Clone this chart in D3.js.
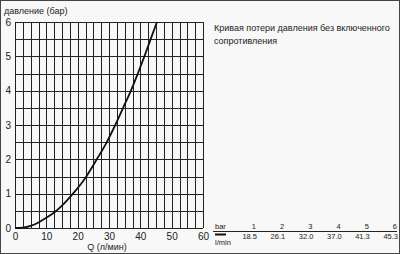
<!DOCTYPE html>
<html>
<head>
<meta charset="utf-8">
<script src="https://cdn.jsdelivr.net/npm/d3@7"></script>
<style>
  html, body { margin: 0; padding: 0; background: #fff; }
  svg { display: block; font-family: "Liberation Sans", Arial, sans-serif; }
</style>
</head>
<body>
<svg id="chart" width="400" height="254"></svg>
<script>
// curve: flow (l/min) vs pressure (bar)
let flowValues = [0, 2.5, 5, 7.5, 10, 12.5, 15, 18.5, 22, 26.1, 29, 32.0, 34.5, 37.0, 39.2, 41.3, 43.3, 45.3];
let pressureValues = [0, 0.01, 0.06, 0.16, 0.3, 0.45, 0.65, 1, 1.4, 2, 2.45, 3, 3.5, 4, 4.5, 5, 5.5, 6];
let xTicks = [0, 10, 20, 30, 40, 50, 60];
let yTicks = [0, 1, 2, 3, 4, 5, 6];
// table at bottom right
let tableBar = [1, 2, 3, 4, 5, 6];
let tableFlow = ["18.5", "26.1", "32.0", "37.0", "41.3", "45.3"];

let svg = d3.select('#chart');
let width = 400, height = 254;
let font = '"Liberation Sans", Arial, sans-serif';

// background + frame
svg.append('rect')
    .attr('x', 0.5).attr('y', 0.5)
    .attr('width', width - 1).attr('height', height - 1)
    .attr('fill', '#f8f8f8')
    .attr('stroke', '#444');

let x = d3.scaleLinear().domain([0, 60]).range([15, 203]);
let y = d3.scaleLinear().domain([0, 6]).range([228, 22]);

// grid every 2.5 l/min and 0.5 bar
let grid = svg.append('g').attr('stroke', '#222').attr('stroke-width', 1);
d3.range(0, 60.01, 2.5).forEach(function (v) {
    grid.append('line')
        .attr('x1', Math.round(x(v)) + 0.5).attr('x2', Math.round(x(v)) + 0.5)
        .attr('y1', y(6)).attr('y2', y(0));
});
d3.range(0, 6.01, 0.5).forEach(function (v) {
    grid.append('line')
        .attr('x1', x(0)).attr('x2', x(60))
        .attr('y1', Math.round(y(v)) + 0.5).attr('y2', Math.round(y(v)) + 0.5);
});

// tick labels only, the grid plays the axis
let xAxis = d3.axisBottom(x).tickValues(xTicks).tickFormat(d3.format('d')).tickSize(0).tickPadding(5);
svg.append('g')
    .attr('transform', 'translate(0,' + y(0) + ')')
    .call(xAxis)
    .call(g => g.select('.domain').remove())
    .selectAll('text')
    .attr('font-size', 10).attr('fill', '#222')
    .attr('font-family', font);

let yAxis = d3.axisLeft(y).tickValues(yTicks).tickFormat(d3.format('d')).tickSize(0).tickPadding(4);
svg.append('g')
    .attr('transform', 'translate(' + x(0) + ',0)')
    .call(yAxis)
    .call(g => g.select('.domain').remove())
    .selectAll('text')
    .attr('font-size', 10).attr('fill', '#222')
    .attr('font-family', font);

svg.append('text')
    .attr('x', 4).attr('y', 14)
    .attr('font-size', 9).attr('fill', '#222')
    .text('давление (бар)');

svg.append('text')
    .attr('x', x(30) - 2).attr('y', 250)
    .attr('text-anchor', 'middle')
    .attr('font-size', 9).attr('fill', '#222')
    .text('Q (л/мин)');

// curve
let line = d3.line()
    .x(function (d, i) { return x(flowValues[i]); })
    .y(function (d) { return y(d); })
    .curve(d3.curveMonotoneX);
svg.append('path')
    .attr('d', line(pressureValues))
    .attr('fill', 'none')
    .attr('stroke', '#111')
    .attr('stroke-width', 1.8);

// title on the right
let title = svg.append('text')
    .attr('font-size', 9).attr('fill', '#222');
title.append('tspan').attr('x', 214).attr('y', 31).text('Кривая потери давления без включенного');
title.append('tspan').attr('x', 214).attr('y', 44).text('сопротивления');

// table
let colX = d3.scaleLinear().domain([1, 6]).range([256, 397]);
let table = svg.append('g').attr('font-size', 7.5).attr('fill', '#222');
table.append('text').attr('x', 215).attr('y', 229).text('bar');
table.append('text').attr('x', 215).attr('y', 245).text('l/min');
table.selectAll('.hdr')
    .data(tableBar).enter().append('text')
    .attr('class', 'hdr')
    .attr('x', d => colX(d)).attr('y', 229)
    .attr('text-anchor', 'end')
    .text(d => d);
table.selectAll('.val')
    .data(tableFlow).enter().append('text')
    .attr('class', 'val')
    .attr('x', (d, i) => colX(tableBar[i]) + 1).attr('y', 238.5)
    .attr('text-anchor', 'end')
    .text(d => d);
svg.append('line')
    .attr('x1', 213).attr('x2', 397)
    .attr('y1', 231.5).attr('y2', 231.5)
    .attr('stroke', '#222').attr('stroke-width', 1);
svg.append('line')
    .attr('x1', 215).attr('x2', 226)
    .attr('y1', 234.5).attr('y2', 234.5)
    .attr('stroke', '#111').attr('stroke-width', 2);
</script>
</body>
</html>
